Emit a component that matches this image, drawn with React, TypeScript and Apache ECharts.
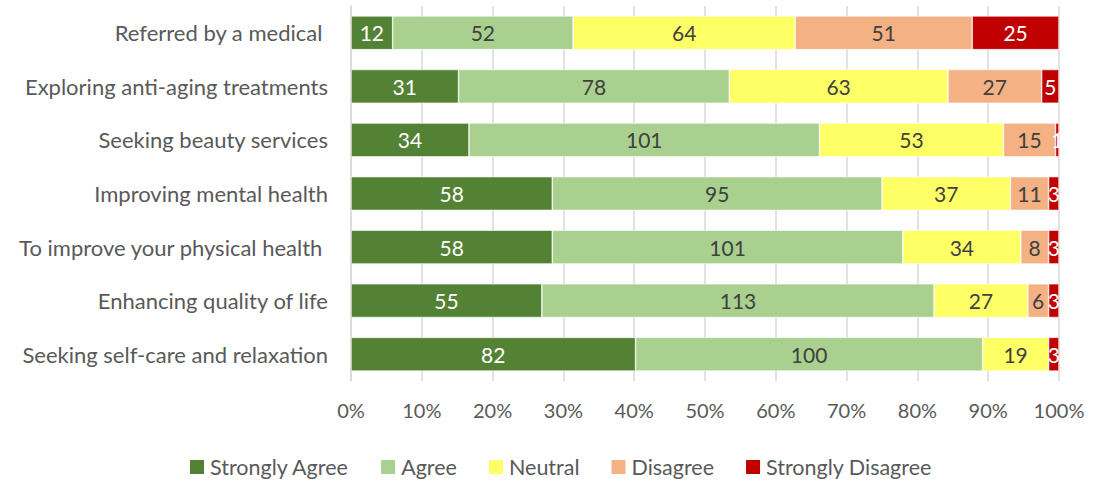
import React, { useEffect, useRef } from "react";
import * as echarts from "echarts";

const categories = [
  "Referred by a medical ",
  "Exploring anti-aging treatments",
  "Seeking beauty services",
  "Improving mental health",
  "To improve your physical health ",
  "Enhancing quality of life",
  "Seeking self-care and relaxation",
];

const seriesNames = ["Strongly Agree", "Agree", "Neutral", "Disagree", "Strongly Disagree"];

const stronglyAgree = [12, 31, 34, 58, 58, 55, 82];
const agree = [52, 78, 101, 95, 101, 113, 100];
const neutral = [64, 63, 53, 37, 34, 27, 19];
const disagree = [51, 27, 15, 11, 8, 6, 0];
const stronglyDisagree = [25, 5, 1, 3, 3, 3, 3];

const xTicks = [0, 10, 20, 30, 40, 50, 60, 70, 80, 90, 100];

const colors = ["#548235", "#A9D08E", "#FFFF66", "#F4B183", "#C00000"];
const labelColors = ["#FFFFFF", "#404040", "#404040", "#404040", "#FFFFFF"];

export default function App() {
  const ref = useRef<HTMLDivElement>(null);
  useEffect(() => {
    document.body.style.margin = "0";
    if (!ref.current) return;
    const chart = echarts.init(ref.current, null, { renderer: "svg" });
    const all = [stronglyAgree, agree, neutral, disagree, stronglyDisagree];
    const totals = categories.map((_, i) => all.reduce((s, arr) => s + arr[i], 0));
    const font = "Lato, 'Open Sans', sans-serif";
    chart.setOption({
      animation: false,
      textStyle: { fontFamily: font },
      grid: { left: 351, right: 35, top: 6, height: 375 },
      legend: {
        top: 451,
        left: 183,
        icon: "rect",
        itemWidth: 16,
        itemHeight: 16,
        itemGap: 30,
        textStyle: { fontSize: 21.5, color: "#595959", fontFamily: font },
        data: seriesNames,
      },
      xAxis: {
        type: "value",
        min: xTicks[0],
        max: xTicks[xTicks.length - 1],
        interval: 10,
        axisLabel: {
          formatter: "{value}%",
          fontSize: 20,
          color: "#595959",
          margin: 19,
          fontFamily: font,
        },
        splitLine: { show: true, lineStyle: { color: "#D9D9D9", width: 1.5 } },
        axisLine: { show: false },
        axisTick: { show: false },
      },
      yAxis: {
        type: "category",
        data: categories,
        inverse: true,
        axisLabel: { fontSize: 22, color: "#595959", margin: 23, fontFamily: font },
        axisLine: { show: true, lineStyle: { color: "#D9D9D9", width: 1.5 } },
        axisTick: { show: false },
      },
      series: seriesNames.map((name, si) => ({
        name,
        type: "bar",
        stack: "total",
        barCategoryGap: "37%",
        itemStyle: { color: colors[si], borderColor: "#FFFFFF", borderWidth: 0.6 },
        label: {
          show: true,
          position: "inside",
          fontSize: 21,
          color: labelColors[si],
          fontFamily: font,
          formatter: (p: any) => {
            const v = all[si][p.dataIndex];
            return v > 0 ? String(v) : "";
          },
        },
        data: all[si].map((v, i) => (v / totals[i]) * 100),
      })),
    });
    return () => chart.dispose();
  }, []);
  return <div ref={ref} style={{ width: 1094, height: 483 }} />;
}
